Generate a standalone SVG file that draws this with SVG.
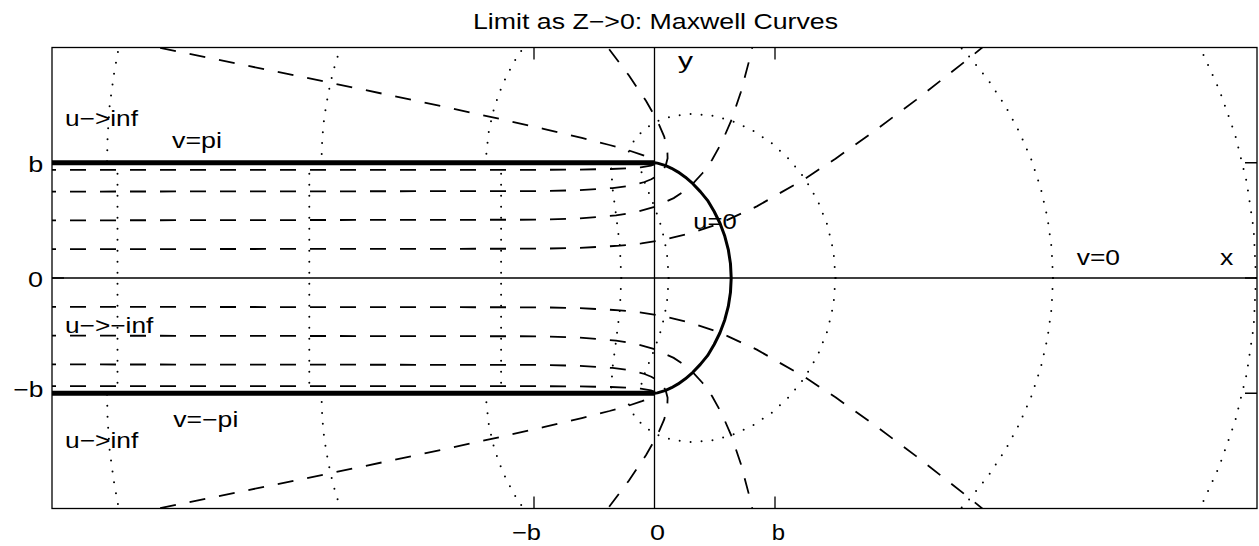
<svg xmlns="http://www.w3.org/2000/svg" xmlns:xlink="http://www.w3.org/1999/xlink" width="1259" height="546" viewBox="0 0 1259 546">
<style>
.t{font-family:"Liberation Sans",Arial,Helvetica,sans-serif;font-size:22px;fill:#000}
.dash{fill:none;stroke:#000;stroke-width:1.8;stroke-dasharray:16 14}
.dot{fill:none;stroke:#000;stroke-width:2;stroke-dasharray:0 11;stroke-linecap:round}
.ax{fill:none;stroke:#000;stroke-width:1.3}
.slit{fill:none;stroke:#000;stroke-width:5}
.u0{fill:none;stroke:#000;stroke-width:3;stroke-linejoin:round}
</style>
<defs>
<clipPath id="plot"><rect x="52" y="47.5" width="1205" height="461"/></clipPath>
</defs>
<rect x="0" y="0" width="1259" height="546" fill="#fff"/>

<g id="curves" clip-path="url(#plot)">
  <g id="upper">
    <!-- constant v (dashed) -->
    <path class="dash" d="M40 249.2 L539.9 248.7 L579.1 247.9 L619.8 245.7 L641.4 243.4 L664.5 239.6 L690.1 233.5 L720 223.3 L756.8 206.4 L805 178.7 L835.5 158.65 L871.9 132.9 L916.1 99.9 L970 57.5 L1022 15.1"/>
    <path class="dash" d="M40 220.4 L539.4 219.7 L577.8 218.5 L616.1 215.4 L635.3 212.2 L654.5 206.9 L673.7 198.1 L683.3 191.8 L692.9 183.7 L702.4 173.3 L712 159.9 L721.6 142.7 L731.2 120.7 L740.8 92.3 L750.4 56 L758.1 19.6"/>
    <path class="dash" d="M40 191.6 L538.9 191.1 L576.4 190.3 L612.5 188.05 L629.3 185.8 L644.5 182 L651.3 179.3 L657.2 175.8 L662.1 171.4 L665.7 165.6 L667.6 158.3 L667.3 148.8 L664.2 136.6 L657.5 121.1 L646.1 101 L628.8 75.3 L603.9 42.3 L584.4 18.1"/>
    <path class="dash" d="M40 169.95 L538.7 169.82 L575.9 169.6 L611.05 169 L626.9 168.36 L640.66 167.32 L650.86 165.61 L653.97 164.38 L655.24 162.8 L654.14 160.76 L650 158.15 L642 154.8 L628.95 150.5 L609.5 145 L581.8 137.9 L543.5 128.8 L491.6 117.07 L422.2 102.05 L330.45 82.76 L209.9 58 L52.3 26.2"/>
    <!-- constant u (dotted) -->
    <path class="dot" d="M621.3 278 L619.8 245.7 L616.1 215.4 L612.5 188.05 L610.95 162.75"/>
    <path class="dot" d="M668.6 278 L667.5 258.4 L664.5 239.65 L659.9 222.3 L654.5 206.9 L649.1 193.5 L644.5 182 L641.5 172 L640.4 162.75"/>
    <path class="dot" d="M835.5 278 L833.5 251.35 L827.5 225.4 L817.9 201 L804.9 178.7 L789.1 159.1 L771.1 142.65 L751.55 129.8 L731.2 120.66 L710.9 115.4 L691.3 113.84 L673.3 115.9 L657.5 121.05 L644.5 129 L634.9 139 L628.95 150.5 L627 162.75"/>
    <path class="dot" d="M1053 278 L1051.6 247.8 L1047.5 217.9 L1040.8 188.5 L1031.4 159.9 L1019.5 132.2 L1005.2 105.8 L988.7 80.8 L970 57.5 L961.1 47.76 L945.7 32.6"/>
    <path class="dot" d="M534.4 33.3 L523.5 47.3 L513.3 63.1 L502.5 84.5 L494.4 106.8 L489 129.7 L486.4 153 L486.15 162.75"/>
    <path class="dot" d="M1256 278 L1253.7 229.7 L1246.7 181.9 L1235.2 134.9 L1219.1 89.3 L1200 47.5 L1187.1 24.2"/>
    <path class="dot" d="M348.5 25.6 L340.5 47.5 L335.05 64.7 L330.4 82.9 L326.2 104.9 L323.3 125.2 L321.9 145.7 L321.5 162.75"/>
    <path class="dot" d="M122.5 30.5 L118.8 47.1 L114 73.85 L109.7 105.1 L107.6 136.56 L107 162.75"/>
  </g>
  <use xlink:href="#upper" href="#upper" transform="matrix(1 0 0 -1 0 556)"/>
  <g id="strip-u">
    <path class="dot" d="M117.5 162.75 V393.25"/>
    <path class="dot" d="M309.3 162.75 V393.25"/>
    <path class="dot" d="M501.1 162.75 V393.25"/>
  </g>
</g>

<g id="axes">
  <path class="ax" d="M52 278 H1257 M654.5 47.5 V508.5"/>
  <rect class="ax" x="52" y="47.5" width="1205" height="461"/>
  <path class="ax" d="M534 508.5 V496.5 M775 508.5 V496.5 M534 47.5 V59.5 M775 47.5 V59.5 M52 162.75 H64 M52 278 H64 M52 393.25 H64 M1257 162.75 H1245 M1257 278 H1245 M1257 393.25 H1245"/>
</g>

<g id="boundaries">
  <path class="slit" d="M52 162.75 H654.5 M52 393.25 H654.5"/>
  <path id="u0" class="u0" d="M654.5 162.75 L657.42 163.12 L665.73 165.62 L671.55 168.26 L678.18 172.08 L685.37 177.19 L692.86 183.69 L700.34 191.6 L707.53 200.33 L714.17 211.48 L719.98 223.25 L724.75 236.01 L728.3 249.55 L730.47 263.64 L731.21 278 L730.47 292.36 L728.3 306.45 L724.75 319.99 L719.98 332.75 L714.17 344.52 L707.53 355.67 L700.34 364.4 L692.86 372.31 L685.37 378.81 L678.18 383.92 L671.55 387.74 L665.73 390.38 L657.42 392.88 L654.5 393.25"/>
</g>

<g id="labels">
  <text class="t" x="473" y="28.5" textLength="365" lengthAdjust="spacingAndGlyphs">Limit as Z−&gt;0: Maxwell Curves</text>
  <text class="t" x="678" y="68" textLength="15" lengthAdjust="spacingAndGlyphs">y</text>
  <text class="t" x="65" y="125.5" textLength="73" lengthAdjust="spacingAndGlyphs">u−&gt;inf</text>
  <text class="t" x="172" y="148.3" textLength="50" lengthAdjust="spacingAndGlyphs">v=pi</text>
  <text class="t" x="693.3" y="229.3" textLength="43.4" lengthAdjust="spacingAndGlyphs">u=0</text>
  <text class="t" x="1076.7" y="265" textLength="43.3" lengthAdjust="spacingAndGlyphs">v=0</text>
  <text class="t" x="1220" y="265" textLength="13.3" lengthAdjust="spacingAndGlyphs">x</text>
  <text class="t" x="65" y="333.3" textLength="88.3" lengthAdjust="spacingAndGlyphs">u−&gt;−inf</text>
  <text class="t" x="173.3" y="426.5" textLength="65" lengthAdjust="spacingAndGlyphs">v=−pi</text>
  <text class="t" x="65" y="448.3" textLength="73.3" lengthAdjust="spacingAndGlyphs">u−&gt;inf</text>
  <text class="t" x="28.3" y="171.5" textLength="15" lengthAdjust="spacingAndGlyphs">b</text>
  <text class="t" x="28" y="286.5" textLength="15" lengthAdjust="spacingAndGlyphs">0</text>
  <text class="t" x="13.3" y="396.7" textLength="30" lengthAdjust="spacingAndGlyphs">−b</text>
  <text class="t" x="512" y="540" textLength="29" lengthAdjust="spacingAndGlyphs">−b</text>
  <text class="t" x="650" y="540" textLength="15" lengthAdjust="spacingAndGlyphs">0</text>
  <text class="t" x="771.7" y="540" textLength="13.3" lengthAdjust="spacingAndGlyphs">b</text>
</g>
</svg>
